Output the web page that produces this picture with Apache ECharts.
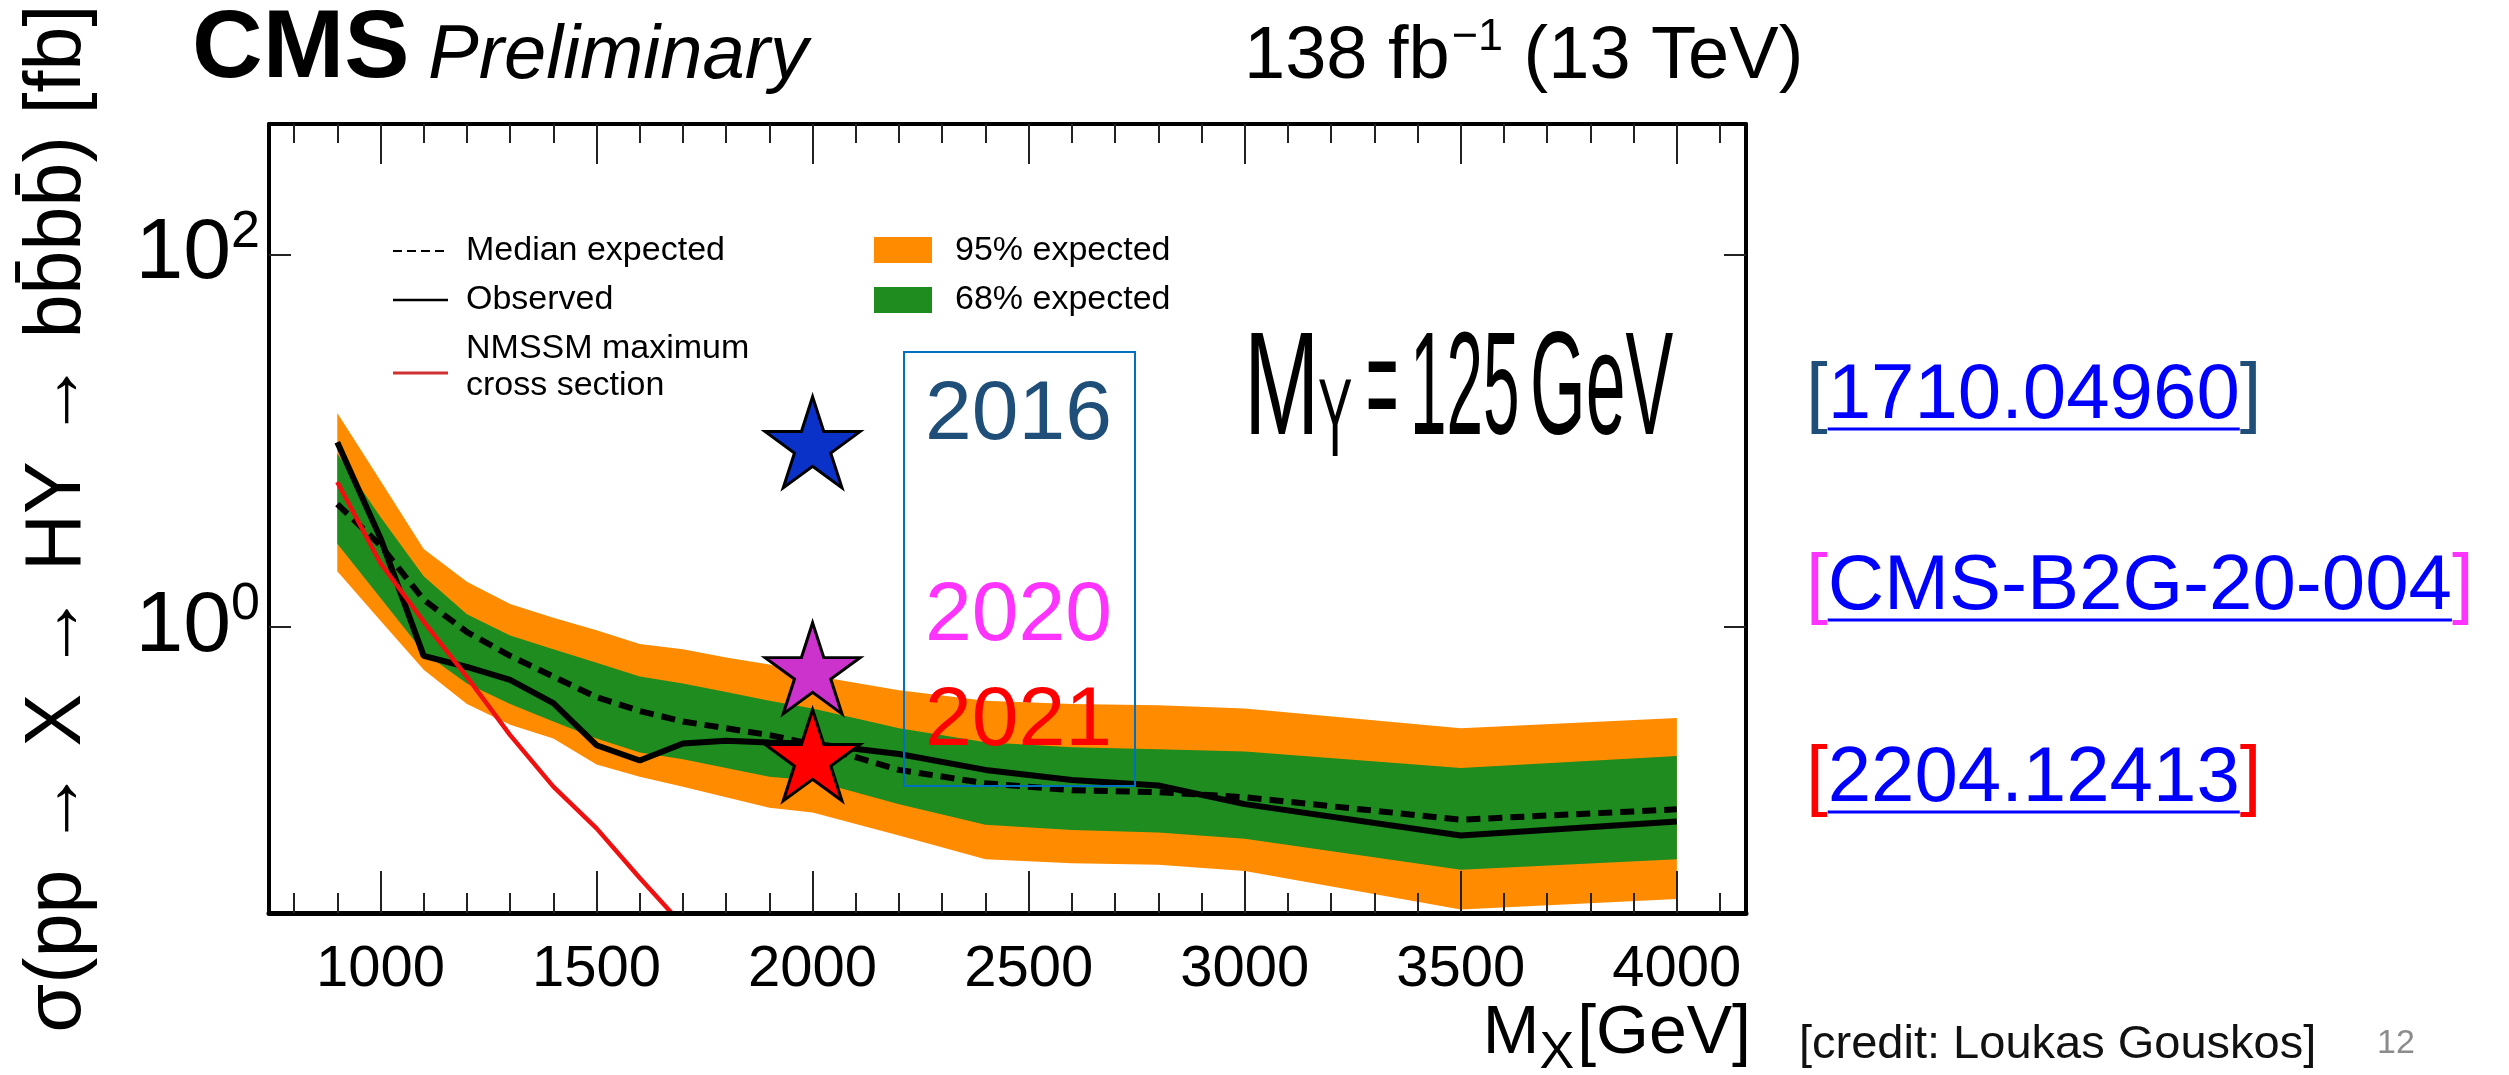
<!DOCTYPE html>
<html>
<head>
<meta charset="utf-8">
<script src="https://cdn.jsdelivr.net/npm/echarts@6/dist/echarts.min.js"></script>
<style>
html,body{margin:0;padding:0;background:#ffffff;}
#c{width:2509px;height:1075px;}
</style>
</head>
<body>
<div id="c"></div>
<script>
// ---------------- data ----------------
const massX          = [900, 1000, 1100, 1200, 1300, 1400, 1500, 1600, 1700, 1800, 1900, 2000, 2200, 2400, 2600, 2800, 3000, 3500, 4000];
const band95Up       = [14.1, 6.1, 2.62, 1.75, 1.33, 1.12, 0.96, 0.81, 0.76, 0.685, 0.63, 0.55, 0.457, 0.402, 0.386, 0.38, 0.365, 0.286, 0.325];
const band68Up       = [8.5, 3.9, 1.87, 1.17, 0.90, 0.76, 0.643, 0.542, 0.498, 0.448, 0.402, 0.365, 0.286, 0.241, 0.226, 0.221, 0.215, 0.175, 0.203];
const band68Down     = [2.8, 1.43, 0.73, 0.498, 0.386, 0.311, 0.252, 0.212, 0.195, 0.175, 0.157, 0.15, 0.112, 0.0867, 0.0813, 0.079, 0.073, 0.0498, 0.0566];
const band95Down     = [1.99, 1.08, 0.59, 0.386, 0.299, 0.252, 0.183, 0.157, 0.139, 0.122, 0.107, 0.101, 0.076, 0.0566, 0.054, 0.053, 0.049, 0.0305, 0.0347];
const medianExpected = [4.57, 2.74, 1.4, 0.94, 0.70, 0.542, 0.42, 0.354, 0.311, 0.286, 0.263, 0.235, 0.171, 0.145, 0.133, 0.130, 0.122, 0.0924, 0.105];
const observed       = [9.8, 3.0, 0.70, 0.61, 0.52, 0.39, 0.232, 0.192, 0.237, 0.245, 0.24, 0.236, 0.208, 0.171, 0.151, 0.141, 0.112, 0.076, 0.0905];
const nmssmX         = [900, 1000, 1100, 1200, 1300, 1400, 1500, 1600, 1700];
const nmssmMax       = [6.0, 2.2, 1.07, 0.54, 0.263, 0.139, 0.083, 0.045, 0.025];
const starYears      = ['2016', '2020', '2021'];
const starX          = [2000, 2000, 2000];
const starY          = [9.8, 0.6, 0.205];
const xMajorTicks    = [1000, 1500, 2000, 2500, 3000, 3500, 4000];
const xMinorTicks    = [800, 900, 1100, 1200, 1300, 1400, 1600, 1700, 1800, 1900, 2100, 2200, 2300, 2400, 2600, 2700, 2800, 2900, 3100, 3200, 3300, 3400, 3600, 3700, 3800, 3900, 4100];
const yMajorTicks    = [1, 100];
const xRange         = [742, 4160];
const yRange         = [0.02917, 501];

// ---------------- styling ----------------
const FONT = '"Liberation Sans", Arial, Helvetica, sans-serif';
const ORANGE = '#ff8c00';
const GREEN = '#1e8c1e';
const STAR = 'path://M0,-50L11.23,-15.45L47.55,-15.45L18.17,5.9L29.39,40.45L0,19.1L-29.39,40.45L-18.17,5.9L-47.55,-15.45L-11.23,-15.45Z';
const starColors = ['#0a32c8', '#cc33cc', '#ff0000'];

const mctx = document.createElement('canvas').getContext('2d');
function tw(text, fs, weight, style, family) {
  mctx.font = (style || 'normal') + ' ' + (weight || 'normal') + ' ' + fs + 'px ' + (family || FONT);
  return mctx.measureText(text).width;
}
function T(text, x, base, fs, o) {
  o = o || {};
  return {
    type: 'text', x: x, y: base - 0.33 * fs, z: 100, silent: true,
    scaleX: o.scaleX || 1, scaleY: 1,
    style: {
      text: text, fill: o.color || '#000', fontSize: fs,
      fontFamily: o.family || FONT, fontWeight: o.weight || 'normal',
      fontStyle: o.italic ? 'italic' : 'normal',
      textAlign: o.align || 'left', textVerticalAlign: 'middle'
    }
  };
}
function L(x1, y1, x2, y2, color, w, dash) {
  return { type: 'line', z: 100, silent: true, shape: { x1: x1, y1: y1, x2: x2, y2: y2 },
    style: { stroke: color, lineWidth: w, lineDash: dash || null } };
}
function R(x, y, w, h, fill, stroke, lw) {
  return { type: 'rect', z: 100, silent: true, shape: { x: x, y: y, width: w, height: h },
    style: { fill: fill, stroke: stroke || null, lineWidth: lw || 0 } };
}

// ---------------- graphic (texts around the plot) ----------------
const G = [];
// header
G.push(T('CMS', 192, 82, 96, { weight: 'bold', scaleX: 1.02 }));
G.push(T('Preliminary', 428, 82, 76, { italic: true }));
(function () {
  let x = 1244;
  G.push(T('138 fb', x, 82, 74)); x += tw('138 fb', 74) + 2;
  G.push(T('\u22121', x, 52, 45)); x += tw('\u22121', 45);
  G.push(T(' (13 TeV)', x, 82, 74));
})();
// M_Y = 125 GeV (condensed lettering)
G.push(T('M', 1244, 442, 146, { scaleX: 0.62 }));
G.push(T('Y', 1318, 462, 112, { scaleX: 0.46 }));
G.push(T('=', 1366, 442, 146, { scaleX: 0.38 }));
G.push(T('125', 1410, 442, 146, { scaleX: 0.45 }));
G.push(T('GeV', 1530, 442, 146, { scaleX: 0.49 }));
// legend
G.push(L(393, 251, 448, 251, '#000', 2, [9, 5]));
G.push(L(393, 300, 448, 300, '#000', 2.5));
G.push(L(393, 373, 448, 373, '#d03030', 3));
G.push(T('Median expected', 466, 262, 34));
G.push(T('Observed', 466, 311, 34));
G.push(T('NMSSM maximum', 466, 360, 34));
G.push(T('cross section', 466, 397, 34));
G.push(R(874, 237, 58, 26, ORANGE));
G.push(R(874, 287, 58, 26, GREEN));
G.push(T('95% expected', 955, 262, 34));
G.push(T('68% expected', 955, 311, 34));
// blue box with years
G.push(R(904, 352, 231, 434, 'none', '#0070c0', 2));
G.push(T(starYears[0], 925, 444, 84, { color: '#1f4e79' }));
G.push(T(starYears[1], 925, 645, 84, { color: '#ff33ff' }));
G.push(T(starYears[2], 925, 750, 84, { color: '#ff0000' }));
// references
function ref(link, bracketColor, base) {
  const fs = 78, x0 = 1806;
  const wb = tw('[', fs), wl = tw(link, fs);
  G.push(T('[', x0, base, fs, { color: bracketColor }));
  G.push(T(link, x0 + wb, base, fs, { color: '#0000ff' }));
  G.push(T(']', x0 + wb + wl, base, fs, { color: bracketColor }));
  G.push(L(x0 + wb, base + 7, x0 + wb + wl, base + 7, '#0000ff', 3));
}
ref('1710.04960', '#1f4e79', 422);
ref('CMS-B2G-20-004', '#ff33ff', 613);
ref('2204.12413', '#ff0000', 805);
// credit + page number
G.push(T('[credit: Loukas Gouskos]', 1799, 1061, 47, { color: '#111' }));
G.push(T('12', 2377, 1055, 34, { color: '#8c8c8c' }));
// x axis title  M_X[GeV]
(function () {
  const wM = tw('M', 68), wX = tw('X', 52), wG = tw('[GeV]', 68);
  let x = 1751 - (wM + wX + wG + 3);
  G.push(T('M', x, 1057, 68)); x += wM;
  G.push(T('X', x, 1071, 52)); x += wX + 3;
  G.push(T('[GeV]', x, 1057, 68));
})();

// ---------------- series ----------------
function band(name, up, down, color, z) {
  return {
    type: 'custom', name: name, xAxisIndex: 0, yAxisIndex: 0, z: z, silent: true,
    data: [[massX[0], up[0]]],
    encode: { x: 0, y: 1 },
    renderItem: function (params, api) {
      const pts = [];
      for (let i = 0; i < massX.length; i++) pts.push(api.coord([massX[i], up[i]]));
      for (let i = massX.length - 1; i >= 0; i--) pts.push(api.coord([massX[i], down[i]]));
      return { type: 'polygon', shape: { points: pts }, style: { fill: color } };
    }
  };
}
const pairs = (xs, ys) => xs.map((x, i) => [x, ys[i]]);

const axisLineStyle = (w) => ({ show: true, onZero: false, lineStyle: { color: '#000', width: w } });
const tickStyle = { color: '#222', width: 2 };

const option = {
  animation: false,
  backgroundColor: '#ffffff',
  grid: { left: 269, top: 124, width: 1477, height: 789, containLabel: false, outerBoundsMode: 'none' },
  xAxis: [
    { type: 'value', min: xRange[0], max: xRange[1], position: 'bottom', z: 20,
      axisLine: axisLineStyle(5),
      axisTick: { show: true, inside: true, length: 42, customValues: xMajorTicks, lineStyle: tickStyle },
      axisLabel: { show: true, customValues: xMajorTicks, fontSize: 58, fontFamily: FONT, color: '#000', margin: 28,
        formatter: function (v) { return String(v); } },
      splitLine: { show: false } },
    { type: 'value', min: xRange[0], max: xRange[1], position: 'bottom', z: 20,
      axisLine: { show: false },
      axisTick: { show: true, inside: true, length: 20, customValues: xMinorTicks, lineStyle: tickStyle },
      axisLabel: { show: false }, splitLine: { show: false } },
    { type: 'value', min: xRange[0], max: xRange[1], position: 'top', z: 20,
      axisLine: axisLineStyle(4),
      axisTick: { show: true, inside: true, length: 40, customValues: xMajorTicks, lineStyle: tickStyle },
      axisLabel: { show: false }, splitLine: { show: false } },
    { type: 'value', min: xRange[0], max: xRange[1], position: 'top', z: 20,
      axisLine: { show: false },
      axisTick: { show: true, inside: true, length: 19, customValues: xMinorTicks, lineStyle: tickStyle },
      axisLabel: { show: false }, splitLine: { show: false } }
  ],
  yAxis: [
    { type: 'log', logBase: 10, min: yRange[0], max: yRange[1], position: 'left', z: 20,
      axisLine: axisLineStyle(4),
      axisTick: { show: true, inside: true, length: 22, customValues: yMajorTicks, lineStyle: tickStyle },
      axisLabel: { show: true, customValues: yMajorTicks, margin: 9,
        formatter: function (v) { return '{b|10}{s|' + Math.round(Math.log10(v)) + '}'; },
        rich: {
          b: { fontSize: 86, fontFamily: FONT, color: '#000', lineHeight: 96 },
          s: { fontSize: 52, fontFamily: FONT, color: '#000', lineHeight: 52, verticalAlign: 'top' }
        } },
      splitLine: { show: false },
      name: '\u03c3(pp \u2192 X \u2192 HY \u2192 bb\u0304bb\u0304) [fb]',
      nameLocation: 'middle', nameGap: 171, nameRotate: 90,
      nameTextStyle: { fontSize: 79, fontFamily: FONT, color: '#000' } },
    { type: 'log', logBase: 10, min: yRange[0], max: yRange[1], position: 'right', z: 20,
      axisLine: axisLineStyle(4),
      axisTick: { show: true, inside: true, length: 22, customValues: yMajorTicks, lineStyle: tickStyle },
      axisLabel: { show: false }, splitLine: { show: false } }
  ],
  series: [
    band('95% expected', band95Up, band95Down, ORANGE, 1),
    band('68% expected', band68Up, band68Down, GREEN, 2),
    { type: 'line', name: 'Median expected', xAxisIndex: 0, yAxisIndex: 0, z: 5,
      data: pairs(massX, medianExpected), symbol: 'none', silent: true,
      lineStyle: { color: '#000', width: 6, type: [14, 8] } },
    { type: 'line', name: 'Observed', xAxisIndex: 0, yAxisIndex: 0, z: 6,
      data: pairs(massX, observed), symbol: 'none', silent: true,
      lineStyle: { color: '#000', width: 6 } },
    { type: 'line', name: 'NMSSM maximum cross section', xAxisIndex: 0, yAxisIndex: 0, z: 7,
      data: pairs(nmssmX, nmssmMax), symbol: 'none', silent: true, clip: true,
      lineStyle: { color: '#f01010', width: 4.5 } },
    { type: 'scatter', name: 'Previous results', xAxisIndex: 0, yAxisIndex: 0, z: 8, silent: true,
      symbol: STAR, symbolSize: [95, 91],
      data: starX.map((x, i) => ({ value: [x, starY[i]], name: starYears[i],
        itemStyle: { color: starColors[i], borderColor: '#000', borderWidth: 3, opacity: 1 } })) }
  ],
  graphic: { elements: G }
};

const chart = echarts.init(document.getElementById('c'), null, { renderer: 'canvas', width: 2509, height: 1075 });
chart.setOption(option);
</script>
</body>
</html>
